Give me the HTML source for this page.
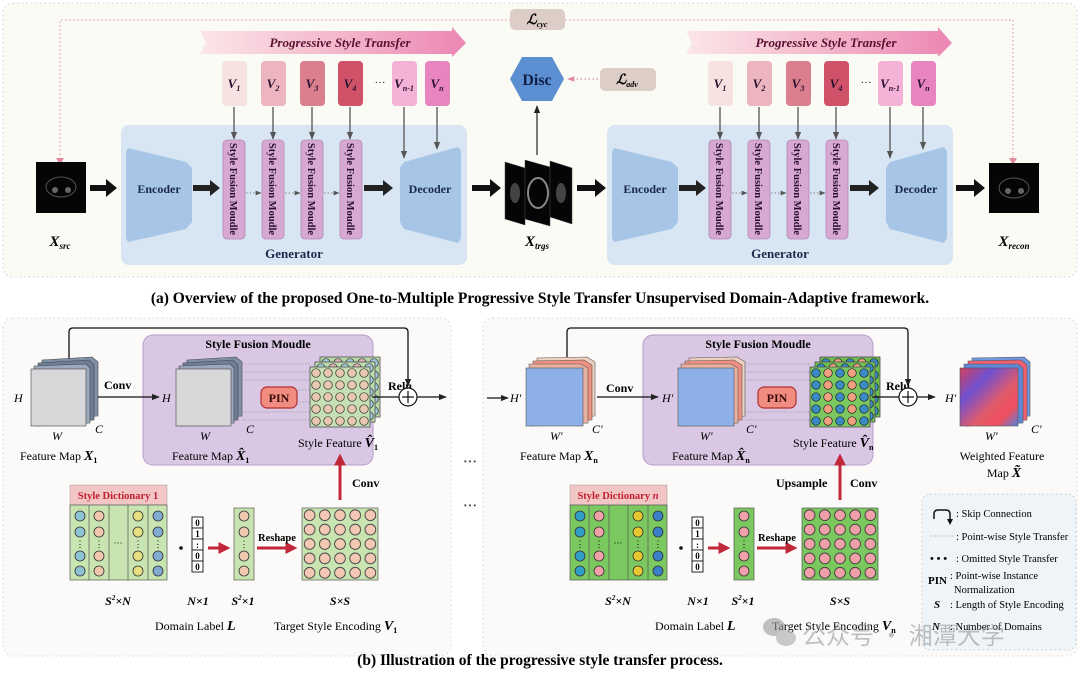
<!DOCTYPE html>
<html><head><meta charset="utf-8"><style>
html,body{margin:0;padding:0;background:#fff;}
svg{display:block;font-family:"Liberation Serif",serif;}
.b{font-weight:bold;}
</style></head><body>
<svg width="1080" height="678" viewBox="0 0 1080 678" xmlns="http://www.w3.org/2000/svg">
<defs>
<marker id="ah" viewBox="0 0 10 10" refX="9" refY="5" markerWidth="6" markerHeight="6" orient="auto"><path d="M0,1 L10,5 L0,9 z" fill="#222"/></marker>
<marker id="ahg" viewBox="0 0 10 10" refX="9" refY="5" markerWidth="6" markerHeight="6" orient="auto"><path d="M0,1 L10,5 L0,9 z" fill="#555"/></marker>
<marker id="ahp" viewBox="0 0 10 10" refX="9" refY="5" markerWidth="5" markerHeight="5" orient="auto"><path d="M0,1 L10,5 L0,9 z" fill="#e08aa0"/></marker>
<marker id="ahr" viewBox="0 0 10 10" refX="8" refY="5" markerWidth="4" markerHeight="4" orient="auto"><path d="M0,0 L10,5 L0,10 z" fill="#c0283a"/></marker>
<linearGradient id="pst" x1="0" x2="1"><stop offset="0" stop-color="#fbe6ea"/><stop offset="0.5" stop-color="#f4b9cc"/><stop offset="1" stop-color="#ec86b4"/></linearGradient>
<linearGradient id="wfm" x1="0" y1="0" x2="1" y2="1"><stop offset="0" stop-color="#d04060"/><stop offset="0.3" stop-color="#7050d0"/><stop offset="0.6" stop-color="#e05a6a"/><stop offset="0.8" stop-color="#f05060"/><stop offset="1" stop-color="#5080e0"/></linearGradient>
<pattern id="gridA" width="0.2" height="0.2" patternUnits="objectBoundingBox"><circle cx="7.6" cy="7.2" r="5.4" fill="#f3c9b5" stroke="#333" stroke-width="0.8"/></pattern>
<pattern id="gridB" width="0.2" height="0.2" patternUnits="objectBoundingBox"><circle cx="7.6" cy="7.2" r="5.4" fill="#f0a0a8" stroke="#333" stroke-width="0.8"/></pattern>
<pattern id="sfA" width="0.2" height="0.2" patternUnits="objectBoundingBox"><circle cx="6" cy="6" r="4.3" fill="#e8c8b0" stroke="#333" stroke-width="0.7"/></pattern>
<pattern id="sfA2" width="0.4" height="0.2" patternUnits="objectBoundingBox"><circle cx="6" cy="6" r="4.3" fill="#a0c8d8" stroke="#333" stroke-width="0.7"/><circle cx="18" cy="6" r="4.3" fill="#e0b0b0" stroke="#333" stroke-width="0.7"/></pattern>
<pattern id="sfB" width="0.4" height="0.2" patternUnits="objectBoundingBox"><circle cx="6" cy="6" r="4.3" fill="#3a8ac8" stroke="#222" stroke-width="0.7"/><circle cx="18" cy="6" r="4.3" fill="#f0a080" stroke="#222" stroke-width="0.7"/></pattern>
</defs>

<!-- ===== Panel (a) ===== -->
<rect x="3" y="3" width="1074" height="274" rx="10" fill="#fafbf5" stroke="#d8d8d0" stroke-width="1.2" stroke-dasharray="1.5,3"/>
<path d="M60,163 V20 H510 M565,20 H1013 V163" fill="none" stroke="#e6a0ae" stroke-width="1.2" stroke-dasharray="1.5,2.5"/>
<path d="M56,158 L60,165 L64,158 z M1009,158 L1013,165 L1017,158 z" fill="#e08aa0"/>
<rect x="510" y="9" width="55" height="21" rx="5" fill="#dccdc6"/>
<text x="537" y="24" font-size="14" font-style="italic" class="b" text-anchor="middle">ℒ<tspan font-size="8" dy="3">cyc</tspan></text>

<!-- Xsrc -->
<rect x="36" y="162" width="50" height="51" fill="#050505"/>
<ellipse cx="61" cy="187" rx="15" ry="10" fill="none" stroke="#666" stroke-width="1" opacity="0.8"/>
<ellipse cx="55" cy="190" rx="3" ry="3" fill="#666"/><ellipse cx="68" cy="190" rx="3" ry="3" fill="#666"/>
<text x="60" y="246" font-size="15" font-style="italic" class="b" text-anchor="middle">X<tspan font-size="9" dy="3">src</tspan></text>

<!-- Xtrgs -->
<g stroke="#444" stroke-width="0.5">
<polygon points="505,162 525,168 525,225 505,219" fill="#050505"/>
<polygon points="525,160 550,167 550,226 525,219" fill="#050505"/>
<polygon points="550,161 572,168 572,224 550,217" fill="#050505"/>
</g>
<ellipse cx="515" cy="193" rx="5" ry="10" fill="#444"/>
<ellipse cx="538" cy="193" rx="10" ry="15" fill="none" stroke="#888" stroke-width="2"/>
<ellipse cx="561" cy="193" rx="5" ry="10" fill="#444"/>
<text x="537" y="246" font-size="15" font-style="italic" class="b" text-anchor="middle">X<tspan font-size="9" dy="3">trgs</tspan></text>

<!-- Disc -->
<polygon points="522,57 552,57 564,79 552,101 522,101 510,79" fill="#5b8fd2"/>
<text x="537" y="85" font-size="16" class="b" fill="#0f1f45" text-anchor="middle">Disc</text>
<line x1="537" y1="155" x2="537" y2="106" stroke="#333" stroke-width="1.3" marker-end="url(#ah)"/>
<line x1="598" y1="79" x2="568" y2="79" stroke="#e6a0ae" stroke-width="1.4" stroke-dasharray="1.5,2.5" marker-end="url(#ahp)"/>
<rect x="600" y="68" width="56" height="23" rx="5" fill="#dccdc6"/>
<text x="627" y="84" font-size="14" font-style="italic" class="b" text-anchor="middle">ℒ<tspan font-size="8" dy="3">adv</tspan></text>

<!-- Xrecon -->
<rect x="989" y="163" width="50" height="50" fill="#050505"/>
<ellipse cx="1014" cy="188" rx="15" ry="10" fill="none" stroke="#666" stroke-width="1" opacity="0.8"/>
<ellipse cx="1008" cy="191" rx="3" ry="3" fill="#666"/><ellipse cx="1021" cy="191" rx="3" ry="3" fill="#666"/>
<text x="1014" y="246" font-size="15" font-style="italic" class="b" text-anchor="middle">X<tspan font-size="9" dy="3">recon</tspan></text>

<g fill="#111">
<path d="M90,185 h16 v-6 l11,9 l-11,9 v-6 h-16z"/>
<path d="M472,185 h18 v-6 l11,9 l-11,9 v-6 h-18z"/>
<path d="M577,185 h18 v-6 l11,9 l-11,9 v-6 h-18z"/>
<path d="M956,185 h18 v-6 l11,9 l-11,9 v-6 h-18z"/>
</g>

<!-- Generator 1 -->
<g>
<path d="M200,31 H452 L452,27 L466,43 L452,57 L452,54 H200 L206,43z" fill="url(#pst)"/>
<text x="340" y="47" font-size="13" font-style="italic" class="b" fill="#5a1030" text-anchor="middle">Progressive Style Transfer</text>
<rect x="121" y="125" width="346" height="140" rx="8" fill="#d8e5f3"/>
<polygon points="128,148 186,162 192,168 192,222 186,229 128,242 126,238 126,152" fill="#a7c5e6"/>
<text x="159" y="193" font-size="12" class="b" fill="#1a2a4a" text-anchor="middle">Encoder</text>
<polygon points="400,168 404,162 458,147 461,151 461,238 458,243 404,229 400,222" fill="#a7c5e6"/>
<text x="430" y="193" font-size="12" class="b" fill="#1a2a4a" text-anchor="middle">Decoder</text>
<text x="294" y="258" font-size="13" class="b" fill="#1a2a4a" text-anchor="middle">Generator</text>
<g fill="#d7a9d2" stroke="#b58ab8" stroke-width="0.8">
<rect x="223" y="140" width="22" height="99" rx="4"/>
<rect x="262" y="140" width="22" height="99" rx="4"/>
<rect x="301" y="140" width="22" height="99" rx="4"/>
<rect x="340" y="140" width="22" height="99" rx="4"/>
</g>
<g font-size="10.5" class="b" fill="#2a1030" text-anchor="middle">
<text transform="translate(230,189) rotate(90)">Style Fusion Moudle</text>
<text transform="translate(269,189) rotate(90)">Style Fusion Moudle</text>
<text transform="translate(308,189) rotate(90)">Style Fusion Moudle</text>
<text transform="translate(347,189) rotate(90)">Style Fusion Moudle</text>
</g>
<g fill="#222"><path d="M193,185 h17 v-5 l10,8 l-10,8 v-5 h-17z"/><path d="M364,185 h19 v-5 l10,8 l-10,8 v-5 h-19z"/></g>
<g stroke="#888" stroke-width="1" stroke-dasharray="1.5,2" marker-end="url(#ahg)"><line x1="246" y1="193" x2="261" y2="193"/><line x1="285" y1="193" x2="300" y2="193"/><line x1="324" y1="193" x2="339" y2="193"/></g>
<g>
<rect x="222" y="61" width="25" height="45" rx="4" fill="#f7e2e2"/>
<rect x="261" y="61" width="25" height="45" rx="4" fill="#ecb5bf"/>
<rect x="300" y="61" width="25" height="45" rx="4" fill="#db7e8d"/>
<rect x="338" y="61" width="25" height="45" rx="4" fill="#d05268"/>
<rect x="392" y="61" width="25" height="45" rx="4" fill="#f3b2d6"/>
<rect x="425" y="61" width="25" height="45" rx="4" fill="#e884bf"/>
</g>
<g font-size="13" font-style="italic" class="b" fill="#2a1030" text-anchor="middle">
<text x="234" y="88">V<tspan font-size="8" dy="3">1</tspan></text>
<text x="273" y="88">V<tspan font-size="8" dy="3">2</tspan></text>
<text x="312" y="88">V<tspan font-size="8" dy="3">3</tspan></text>
<text x="350" y="88">V<tspan font-size="8" dy="3">4</tspan></text>
<text x="404" y="88">V<tspan font-size="8" dy="3">n-1</tspan></text>
<text x="437" y="88">V<tspan font-size="8" dy="3">n</tspan></text>
<text x="380" y="86" font-style="normal" font-weight="normal" font-size="11">···</text>
</g>
<g stroke="#555" stroke-width="1.3" marker-end="url(#ahg)">
<line x1="234" y1="107" x2="234" y2="139"/><line x1="273" y1="107" x2="273" y2="139"/><line x1="312" y1="107" x2="312" y2="139"/><line x1="350" y1="107" x2="350" y2="139"/><line x1="404" y1="107" x2="404" y2="158"/><line x1="437" y1="107" x2="437" y2="149"/>
</g>
</g>
<!-- Generator 2 -->
<g transform="translate(486,0)">
<path d="M200,31 H452 L452,27 L466,43 L452,57 L452,54 H200 L206,43z" fill="url(#pst)"/>
<text x="340" y="47" font-size="13" font-style="italic" class="b" fill="#5a1030" text-anchor="middle">Progressive Style Transfer</text>
<rect x="121" y="125" width="346" height="140" rx="8" fill="#d8e5f3"/>
<polygon points="128,148 186,162 192,168 192,222 186,229 128,242 126,238 126,152" fill="#a7c5e6"/>
<text x="159" y="193" font-size="12" class="b" fill="#1a2a4a" text-anchor="middle">Encoder</text>
<polygon points="400,168 404,162 458,147 461,151 461,238 458,243 404,229 400,222" fill="#a7c5e6"/>
<text x="430" y="193" font-size="12" class="b" fill="#1a2a4a" text-anchor="middle">Decoder</text>
<text x="294" y="258" font-size="13" class="b" fill="#1a2a4a" text-anchor="middle">Generator</text>
<g fill="#d7a9d2" stroke="#b58ab8" stroke-width="0.8">
<rect x="223" y="140" width="22" height="99" rx="4"/>
<rect x="262" y="140" width="22" height="99" rx="4"/>
<rect x="301" y="140" width="22" height="99" rx="4"/>
<rect x="340" y="140" width="22" height="99" rx="4"/>
</g>
<g font-size="10.5" class="b" fill="#2a1030" text-anchor="middle">
<text transform="translate(230,189) rotate(90)">Style Fusion Moudle</text>
<text transform="translate(269,189) rotate(90)">Style Fusion Moudle</text>
<text transform="translate(308,189) rotate(90)">Style Fusion Moudle</text>
<text transform="translate(347,189) rotate(90)">Style Fusion Moudle</text>
</g>
<g fill="#222"><path d="M193,185 h17 v-5 l10,8 l-10,8 v-5 h-17z"/><path d="M364,185 h19 v-5 l10,8 l-10,8 v-5 h-19z"/></g>
<g stroke="#888" stroke-width="1" stroke-dasharray="1.5,2" marker-end="url(#ahg)"><line x1="246" y1="193" x2="261" y2="193"/><line x1="285" y1="193" x2="300" y2="193"/><line x1="324" y1="193" x2="339" y2="193"/></g>
<g>
<rect x="222" y="61" width="25" height="45" rx="4" fill="#f7e2e2"/>
<rect x="261" y="61" width="25" height="45" rx="4" fill="#ecb5bf"/>
<rect x="300" y="61" width="25" height="45" rx="4" fill="#db7e8d"/>
<rect x="338" y="61" width="25" height="45" rx="4" fill="#d05268"/>
<rect x="392" y="61" width="25" height="45" rx="4" fill="#f3b2d6"/>
<rect x="425" y="61" width="25" height="45" rx="4" fill="#e884bf"/>
</g>
<g font-size="13" font-style="italic" class="b" fill="#2a1030" text-anchor="middle">
<text x="234" y="88">V<tspan font-size="8" dy="3">1</tspan></text>
<text x="273" y="88">V<tspan font-size="8" dy="3">2</tspan></text>
<text x="312" y="88">V<tspan font-size="8" dy="3">3</tspan></text>
<text x="350" y="88">V<tspan font-size="8" dy="3">4</tspan></text>
<text x="404" y="88">V<tspan font-size="8" dy="3">n-1</tspan></text>
<text x="437" y="88">V<tspan font-size="8" dy="3">n</tspan></text>
<text x="380" y="86" font-style="normal" font-weight="normal" font-size="11">···</text>
</g>
<g stroke="#555" stroke-width="1.3" marker-end="url(#ahg)">
<line x1="234" y1="107" x2="234" y2="139"/><line x1="273" y1="107" x2="273" y2="139"/><line x1="312" y1="107" x2="312" y2="139"/><line x1="350" y1="107" x2="350" y2="139"/><line x1="404" y1="107" x2="404" y2="158"/><line x1="437" y1="107" x2="437" y2="149"/>
</g>
</g>

<text x="540" y="303" font-size="15.5" class="b" text-anchor="middle">(a) Overview of the proposed One-to-Multiple Progressive Style Transfer Unsupervised Domain-Adaptive framework.</text>

<!-- ===== Panel (b) ===== -->
<rect x="3" y="318" width="448" height="338" rx="10" fill="#fbfaf8" stroke="#ddd" stroke-width="1.2" stroke-dasharray="1.5,3"/>
<rect x="483" y="318" width="594" height="338" rx="10" fill="#fbfaf8" stroke="#ddd" stroke-width="1.2" stroke-dasharray="1.5,3"/>
<text x="463" y="466" font-size="14" class="b" fill="#555">···</text>
<text x="463" y="510" font-size="14" class="b" fill="#555">···</text>

<!-- LEFT -->
<path d="M69,360 V332 Q69,328 73,328 H404 Q408,328 408,332 V386" fill="none" stroke="#111" stroke-width="1.3" marker-end="url(#ah)"/>
<rect x="143" y="335" width="230" height="130" rx="10" fill="#d9c7e3" stroke="#b49cc8"/>
<text x="258" y="348" font-size="12" class="b" text-anchor="middle">Style Fusion Moudle</text>
<g stroke="#444" stroke-width="0.6">
<polygon points="42,360 92,357 98,362 98,416 44,419" fill="#8090a8"/>
<polygon points="38,363 89,360 94,365 94,420 40,423" fill="#6d7f98"/>
<polygon points="34,366 86,364 90,368 90,423 36,426" fill="#9aa8be"/>
<rect x="31" y="369" width="55" height="57" fill="#d7d7d9"/>
</g>
<g font-size="12" font-style="italic">
<text x="14" y="402">H</text><text x="52" y="440">W</text><text x="95" y="433">C</text>
<text x="162" y="402">H</text><text x="200" y="440">W</text><text x="246" y="433">C</text>
</g>
<text x="20" y="460" font-size="12">Feature Map <tspan font-style="italic" class="b" font-size="14">X</tspan><tspan font-size="8" class="b" dy="3">1</tspan></text>
<line x1="98" y1="397" x2="159" y2="397" stroke="#111" stroke-width="1.3" marker-end="url(#ah)"/>
<text x="104" y="389" font-size="12" class="b">Conv</text>
<g stroke="#444" stroke-width="0.6">
<polygon points="187,360 236,357 242,362 242,416 189,419" fill="#8090a8"/>
<polygon points="183,363 233,360 238,365 238,420 185,423" fill="#6d7f98"/>
<polygon points="179,366 230,364 234,368 234,423 181,426" fill="#9aa8be"/>
<rect x="176" y="369" width="55" height="57" fill="#d7d7d9"/>
</g>
<text x="172" y="460" font-size="12">Feature Map <tspan font-style="italic" class="b" font-size="14">X̂</tspan><tspan font-size="8" class="b" dy="3">1</tspan></text>
<g stroke="#999" stroke-width="0.7" stroke-dasharray="1.5,1.5"><line x1="242" y1="364" x2="310" y2="364"/><line x1="242" y1="372" x2="310" y2="372"/><line x1="242" y1="380" x2="310" y2="380"/><line x1="290" y1="390" x2="310" y2="390"/><line x1="290" y1="402" x2="310" y2="402"/><line x1="242" y1="412" x2="310" y2="412"/><line x1="242" y1="420" x2="310" y2="420"/></g>
<rect x="261" y="387" width="36" height="21" rx="6" fill="#f08c80" stroke="#b03030" stroke-width="1.2"/>
<text x="279" y="402" font-size="12" class="b" text-anchor="middle" fill="#3a0a0a">PIN</text>
<g stroke="#555" stroke-width="0.6">
<rect x="320" y="357" width="60" height="60" fill="#b8d8a8"/>
<rect x="320" y="357" width="60" height="60" fill="url(#sfA2)"/>
<rect x="315" y="362" width="60" height="60" fill="#bcdcac"/>
<rect x="315" y="362" width="60" height="60" fill="url(#sfA2)"/>
<rect x="310" y="367" width="60" height="60" fill="#c4e0b4"/>
<rect x="310" y="367" width="60" height="60" fill="url(#sfA)"/>
</g>
<text x="298" y="447" font-size="12">Style Feature <tspan font-style="italic" class="b" font-size="14">V̂</tspan><tspan font-size="8" class="b" dy="3">1</tspan></text>
<line x1="372" y1="397" x2="399" y2="397" stroke="#111" stroke-width="1.3"/>
<text x="388" y="390" font-size="12" class="b">Relu</text>
<circle cx="408" cy="397" r="9" fill="#fff" stroke="#111" stroke-width="1.2"/>
<path d="M402,397 h12 M408,391 v12" stroke="#111" stroke-width="1.2"/>
<line x1="417" y1="397" x2="446" y2="397" stroke="#111" stroke-width="1.3" marker-end="url(#ah)"/>
<line x1="340" y1="500" x2="340" y2="456" stroke="#c0283a" stroke-width="3" marker-end="url(#ahr)"/>
<text x="352" y="487" font-size="12" class="b">Conv</text>
<rect x="70" y="485" width="97" height="20" fill="#f3c6c6" stroke="#999" stroke-width="0.5"/>
<text x="118" y="499" font-size="10.5" class="b" fill="#c02030" text-anchor="middle">Style Dictionary 1</text>
<rect x="70" y="505" width="97" height="75" fill="#c8e4b0" stroke="#555" stroke-width="0.7"/>
<g stroke="#555" stroke-width="0.7"><line x1="89" y1="505" x2="89" y2="580"/><line x1="109" y1="505" x2="109" y2="580"/><line x1="128" y1="505" x2="128" y2="580"/><line x1="148" y1="505" x2="148" y2="580"/></g>
<g stroke="#333" stroke-width="0.8">
<g fill="#8ec3d4"><circle cx="80" cy="516" r="5"/><circle cx="80" cy="532" r="5"/><circle cx="80" cy="556" r="5"/><circle cx="80" cy="571" r="5"/></g>
<g fill="#f0c8b0"><circle cx="99" cy="516" r="5"/><circle cx="99" cy="532" r="5"/><circle cx="99" cy="556" r="5"/><circle cx="99" cy="571" r="5"/></g>
<g fill="#e8e080"><circle cx="138" cy="516" r="5"/><circle cx="138" cy="532" r="5"/><circle cx="138" cy="556" r="5"/><circle cx="138" cy="571" r="5"/></g>
<g fill="#80aad0"><circle cx="158" cy="516" r="5"/><circle cx="158" cy="532" r="5"/><circle cx="158" cy="556" r="5"/><circle cx="158" cy="571" r="5"/></g>
</g>
<g font-size="9" text-anchor="middle"><text x="80" y="547">⋮</text><text x="99" y="547">⋮</text><text x="118" y="546">···</text><text x="138" y="547">⋮</text><text x="158" y="547">⋮</text></g>
<circle cx="181" cy="548" r="1.8" fill="#111"/>
<g stroke="#111" stroke-width="0.9" fill="#fff"><rect x="192" y="517" width="11" height="11"/><rect x="192" y="528" width="11" height="11"/><rect x="192" y="539" width="11" height="11"/><rect x="192" y="550" width="11" height="11"/><rect x="192" y="561" width="11" height="11"/></g>
<g font-size="9" class="b" text-anchor="middle"><text x="197.5" y="526">0</text><text x="197.5" y="537">1</text><text x="197.5" y="548">:</text><text x="197.5" y="559">0</text><text x="197.5" y="570">0</text></g>
<line x1="208" y1="548" x2="228" y2="548" stroke="#c0283a" stroke-width="3" marker-end="url(#ahr)"/>
<rect x="234" y="508" width="20" height="72" fill="#c8e4b0" stroke="#555" stroke-width="0.7"/>
<g stroke="#333" stroke-width="0.8" fill="#f0c8b0"><circle cx="244" cy="516" r="5"/><circle cx="244" cy="532" r="5"/><circle cx="244" cy="556" r="5"/><circle cx="244" cy="571" r="5"/></g>
<text x="244" y="547" font-size="9" text-anchor="middle">⋮</text>
<line x1="257" y1="548" x2="295" y2="548" stroke="#c0283a" stroke-width="3" marker-end="url(#ahr)"/>
<text x="258" y="541" font-size="10.5" class="b">Reshape</text>
<rect x="302" y="508" width="76" height="72" fill="#c8e4b0" stroke="#555" stroke-width="0.7"/>
<rect x="302" y="508" width="76" height="72" fill="url(#gridA)"/>
<g font-size="12" font-style="italic" class="b" text-anchor="middle">
<text x="118" y="605">S<tspan font-size="7" dy="-5">2</tspan><tspan dy="5">×N</tspan></text>
<text x="198" y="605">N×1</text>
<text x="243" y="605">S<tspan font-size="7" dy="-5">2</tspan><tspan dy="5">×1</tspan></text>
<text x="340" y="605">S×S</text>
</g>
<text x="155" y="630" font-size="12">Domain Label <tspan font-style="italic" class="b" font-size="14">L</tspan></text>
<text x="274" y="630" font-size="12">Target Style Encoding <tspan font-style="italic" class="b" font-size="14">V</tspan><tspan font-size="8" class="b" dy="3">1</tspan></text>

<!-- RIGHT -->
<path d="M567,360 V332 Q567,328 571,328 H904 Q908,328 908,332 V386" fill="none" stroke="#111" stroke-width="1.3" marker-end="url(#ah)"/>
<line x1="487" y1="398" x2="508" y2="398" stroke="#111" stroke-width="1.3" marker-end="url(#ah)"/>
<text x="510" y="402" font-size="12" font-style="italic">H'</text>
<rect x="643" y="335" width="230" height="130" rx="10" fill="#d9c7e3" stroke="#b49cc8"/>
<text x="758" y="348" font-size="12" class="b" text-anchor="middle">Style Fusion Moudle</text>
<g stroke="#555" stroke-width="0.6">
<polygon points="537,358 587,357 595,362 595,416 539,419" fill="#f0d0c0"/>
<polygon points="533,361 584,360 592,365 592,420 535,423" fill="#f09080"/>
<polygon points="529,364 581,364 588,368 588,423 531,426" fill="#e8b0a0"/>
<rect x="526" y="368" width="57" height="58" fill="#8eb0e8"/>
</g>
<g font-size="12" font-style="italic">
<text x="550" y="440">W'</text><text x="592" y="433">C'</text>
<text x="662" y="402">H'</text><text x="700" y="440">W'</text><text x="746" y="433">C'</text>
<text x="945" y="402">H'</text><text x="985" y="440">W'</text><text x="1031" y="433">C'</text>
</g>
<text x="520" y="460" font-size="12">Feature Map <tspan font-style="italic" class="b" font-size="14">X</tspan><tspan font-size="8" class="b" dy="3">n</tspan></text>
<line x1="597" y1="397" x2="658" y2="397" stroke="#111" stroke-width="1.3" marker-end="url(#ah)"/>
<text x="606" y="392" font-size="12" class="b">Conv</text>
<g stroke="#555" stroke-width="0.6">
<polygon points="689,358 737,357 745,362 745,416 691,419" fill="#f0d0c0"/>
<polygon points="685,361 734,360 742,365 742,420 687,423" fill="#f09080"/>
<polygon points="681,364 731,364 738,368 738,423 683,426" fill="#e8b0a0"/>
<rect x="678" y="368" width="56" height="58" fill="#8eb0e8"/>
</g>
<text x="672" y="460" font-size="12">Feature Map <tspan font-style="italic" class="b" font-size="14">X̂</tspan><tspan font-size="8" class="b" dy="3">n</tspan></text>
<g stroke="#999" stroke-width="0.7" stroke-dasharray="1.5,1.5"><line x1="745" y1="364" x2="810" y2="364"/><line x1="745" y1="372" x2="810" y2="372"/><line x1="745" y1="380" x2="810" y2="380"/><line x1="745" y1="412" x2="810" y2="412"/><line x1="745" y1="420" x2="810" y2="420"/></g>
<rect x="758" y="387" width="38" height="21" rx="6" fill="#f08c80" stroke="#b03030" stroke-width="1.2"/>
<text x="777" y="402" font-size="12" class="b" text-anchor="middle" fill="#3a0a0a">PIN</text>
<g stroke="#555" stroke-width="0.6">
<rect x="820" y="357" width="60" height="60" fill="#6cbc50"/>
<rect x="820" y="357" width="60" height="60" fill="url(#sfB)"/>
<rect x="815" y="362" width="60" height="60" fill="#70c054"/>
<rect x="815" y="362" width="60" height="60" fill="url(#sfB)"/>
<rect x="810" y="367" width="60" height="60" fill="#7cc860"/>
<rect x="810" y="367" width="60" height="60" fill="url(#sfB)"/>
</g>
<text x="793" y="447" font-size="12">Style Feature <tspan font-style="italic" class="b" font-size="14">V̂</tspan><tspan font-size="8" class="b" dy="3">n</tspan></text>
<line x1="872" y1="397" x2="899" y2="397" stroke="#111" stroke-width="1.3"/>
<text x="886" y="390" font-size="12" class="b">Relu</text>
<circle cx="908" cy="397" r="9" fill="#fff" stroke="#111" stroke-width="1.2"/>
<path d="M902,397 h12 M908,391 v12" stroke="#111" stroke-width="1.2"/>
<line x1="917" y1="397" x2="935" y2="397" stroke="#111" stroke-width="1.3" marker-end="url(#ah)"/>
<g stroke="#555" stroke-width="0.6">
<polygon points="972,358 1024,357 1030,362 1030,416 974,419" fill="#7098e0"/>
<polygon points="968,361 1021,360 1027,365 1027,420 970,423" fill="#f06070"/>
<polygon points="964,364 1018,364 1023,368 1023,423 966,426" fill="#6088d8"/>
<rect x="960" y="368" width="58" height="58" fill="url(#wfm)"/>
</g>
<text x="1002" y="460" font-size="12" text-anchor="middle">Weighted Feature</text>
<text x="1004" y="477" font-size="12" text-anchor="middle">Map <tspan font-style="italic" class="b" font-size="14">X̃</tspan></text>
<line x1="840" y1="500" x2="840" y2="456" stroke="#c0283a" stroke-width="3" marker-end="url(#ahr)"/>
<text x="776" y="487" font-size="12" class="b">Upsample</text>
<text x="850" y="487" font-size="12" class="b">Conv</text>
<rect x="570" y="485" width="97" height="20" fill="#f3c6c6" stroke="#999" stroke-width="0.5"/>
<text x="618" y="499" font-size="10.5" class="b" fill="#c02030" text-anchor="middle">Style Dictionary <tspan font-style="italic">n</tspan></text>
<rect x="570" y="505" width="97" height="75" fill="#7cc860" stroke="#555" stroke-width="0.7"/>
<g stroke="#555" stroke-width="0.7"><line x1="589" y1="505" x2="589" y2="580"/><line x1="609" y1="505" x2="609" y2="580"/><line x1="628" y1="505" x2="628" y2="580"/><line x1="648" y1="505" x2="648" y2="580"/></g>
<g stroke="#333" stroke-width="0.8">
<g fill="#30a0c8"><circle cx="580" cy="516" r="5"/><circle cx="580" cy="532" r="5"/><circle cx="580" cy="556" r="5"/><circle cx="580" cy="571" r="5"/></g>
<g fill="#f0a0a8"><circle cx="599" cy="516" r="5"/><circle cx="599" cy="532" r="5"/><circle cx="599" cy="556" r="5"/><circle cx="599" cy="571" r="5"/></g>
<g fill="#e8c830"><circle cx="638" cy="516" r="5"/><circle cx="638" cy="532" r="5"/><circle cx="638" cy="556" r="5"/><circle cx="638" cy="571" r="5"/></g>
<g fill="#3a80c8"><circle cx="658" cy="516" r="5"/><circle cx="658" cy="532" r="5"/><circle cx="658" cy="556" r="5"/><circle cx="658" cy="571" r="5"/></g>
</g>
<g font-size="9" text-anchor="middle"><text x="580" y="547">⋮</text><text x="599" y="547">⋮</text><text x="618" y="546">···</text><text x="638" y="547">⋮</text><text x="658" y="547">⋮</text></g>
<circle cx="681" cy="548" r="1.8" fill="#111"/>
<g stroke="#111" stroke-width="0.9" fill="#fff"><rect x="692" y="517" width="11" height="11"/><rect x="692" y="528" width="11" height="11"/><rect x="692" y="539" width="11" height="11"/><rect x="692" y="550" width="11" height="11"/><rect x="692" y="561" width="11" height="11"/></g>
<g font-size="9" class="b" text-anchor="middle"><text x="697.5" y="526">0</text><text x="697.5" y="537">1</text><text x="697.5" y="548">:</text><text x="697.5" y="559">0</text><text x="697.5" y="570">0</text></g>
<line x1="708" y1="548" x2="728" y2="548" stroke="#c0283a" stroke-width="3" marker-end="url(#ahr)"/>
<rect x="734" y="508" width="20" height="72" fill="#7cc860" stroke="#555" stroke-width="0.7"/>
<g stroke="#333" stroke-width="0.8" fill="#f0a0a8"><circle cx="744" cy="516" r="5"/><circle cx="744" cy="532" r="5"/><circle cx="744" cy="556" r="5"/><circle cx="744" cy="571" r="5"/></g>
<text x="744" y="547" font-size="9" text-anchor="middle">⋮</text>
<line x1="757" y1="548" x2="795" y2="548" stroke="#c0283a" stroke-width="3" marker-end="url(#ahr)"/>
<text x="758" y="541" font-size="10.5" class="b">Reshape</text>
<rect x="802" y="508" width="76" height="72" fill="#7cc860" stroke="#555" stroke-width="0.7"/>
<rect x="802" y="508" width="76" height="72" fill="url(#gridB)"/>
<g font-size="12" font-style="italic" class="b" text-anchor="middle">
<text x="618" y="605">S<tspan font-size="7" dy="-5">2</tspan><tspan dy="5">×N</tspan></text>
<text x="698" y="605">N×1</text>
<text x="743" y="605">S<tspan font-size="7" dy="-5">2</tspan><tspan dy="5">×1</tspan></text>
<text x="840" y="605">S×S</text>
</g>
<text x="655" y="630" font-size="12">Domain Label <tspan font-style="italic" class="b" font-size="14">L</tspan></text>
<text x="772" y="630" font-size="12">Target Style Encoding <tspan font-style="italic" class="b" font-size="14">V</tspan><tspan font-size="8" class="b" dy="3">n</tspan></text>

<!-- legend -->
<rect x="922" y="494" width="154" height="156" rx="8" fill="#eef4f8" stroke="#ccc" stroke-dasharray="1.5,3"/>
<path d="M934,519 V514 Q934,510 938,510 H946 Q950,510 950,514 V520" fill="none" stroke="#111" stroke-width="1.5"/>
<path d="M947,519 L950,525 L953,519z" fill="#111"/>
<g font-size="10.5">
<text x="956" y="517">: Skip Connection</text>
<line x1="930" y1="536" x2="955" y2="536" stroke="#aaa" stroke-dasharray="1,1.5"/>
<text x="956" y="540">: Point-wise Style Transfer</text>
<text x="930" y="562" font-size="11" class="b">• • •</text>
<text x="956" y="562">: Omitted Style Transfer</text>
<text x="928" y="584" font-size="11" class="b">PIN</text>
<text x="950" y="579">: Point-wise Instance</text>
<text x="954" y="593">Normalization</text>
<text x="934" y="608" font-size="11" class="b" font-style="italic">S</text>
<text x="950" y="608">: Length of Style Encoding</text>
<text x="932" y="630" font-size="11" class="b" font-style="italic">N</text>
<text x="950" y="630">: Number of Domains</text>
</g>
<g opacity="0.6">
<ellipse cx="774" cy="627" rx="11" ry="9" fill="#999"/><ellipse cx="786" cy="638" rx="10" ry="8" fill="#aaa"/>
<text x="802" y="644" font-size="24" fill="#999" font-family="Noto Sans CJK SC, sans-serif">公众号 · 湘潭大学</text>
</g>

<text x="540" y="665" font-size="15.5" class="b" text-anchor="middle">(b) Illustration of the progressive style transfer process.</text>
</svg>
</body></html>
